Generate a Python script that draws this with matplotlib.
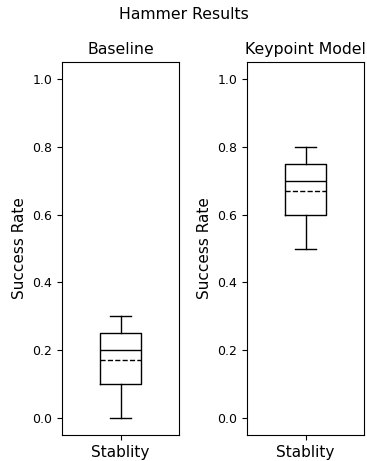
import matplotlib
matplotlib.use('Agg')
import matplotlib.pyplot as plt

# данные
titles = ['Baseline', 'Keypoint Model']
baseline = [0.0, 0.1, 0.2, 0.25, 0.3]
keypoint = [0.5, 0.6, 0.7, 0.75, 0.8]
series = [baseline, keypoint]
xlabels = ['Stablity']

fig = plt.figure(figsize=(3.67, 4.61), dpi=100)
lefts = [0.169, 0.673]
for i in range(2):
    ax = fig.add_axes([lefts[i], 0.0564, 0.319, 0.809])
    ax.boxplot([series[i]], showmeans=True, meanline=True, widths=0.35,
               medianprops=dict(color='black'),
               meanprops=dict(color='black', linestyle='--'))
    ax.set_ylim(-0.05, 1.05)
    ax.set_xticks([1])
    ax.set_xticklabels(xlabels, fontsize=11)
    ax.set_ylabel('Success Rate', fontsize=11)
    ax.set_title(titles[i], fontsize=11.3)
    ax.tick_params(axis='y', labelsize=9)

fig.suptitle('Hammer Results', y=0.985, fontsize=11.3)
fig.savefig('out.png', dpi=100)
